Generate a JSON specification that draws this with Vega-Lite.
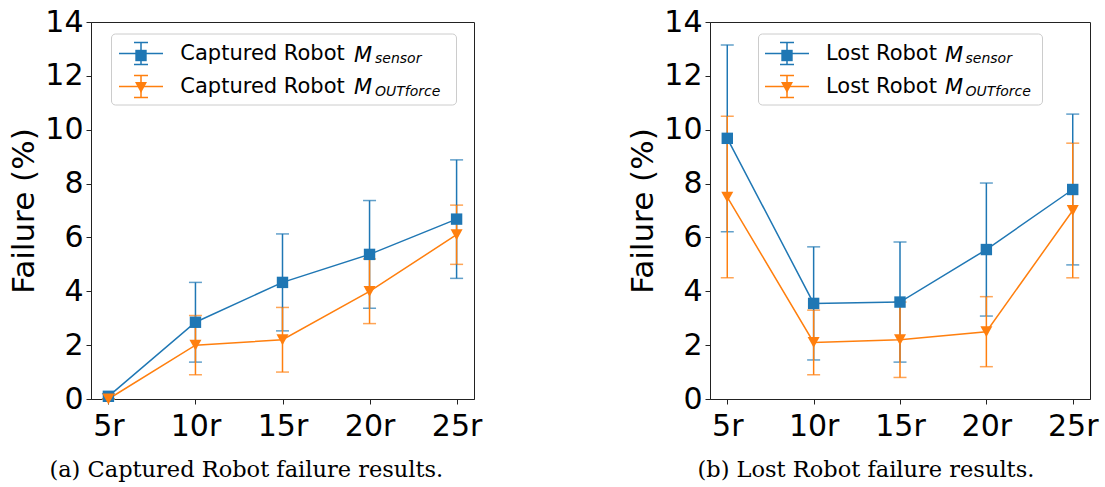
{
  "$schema": "https://vega.github.io/schema/vega-lite/v6.json",
  "background": "white",
  "padding": {"left": 8, "top": 6, "right": 10, "bottom": 8},
  "spacing": 144,
  "config": {
    "font": "DejaVu Sans",
    "view": {"stroke": "#222", "strokeWidth": 1},
    "axis": {
      "labelFont": "DejaVu Sans", "labelFontSize": 30, "labelColor": "black",
      "titleFont": "DejaVu Sans", "titleFontSize": 31, "titleFontWeight": "normal", "titleColor": "black",
      "domainColor": "#222", "tickColor": "#222", "tickSize": 5, "grid": false, "labelPadding": 3
    },
    "axisX": {"labelPadding": 7},
    "legend": {"title": null, "orient": "none", "labelFont": "DejaVu Sans", "labelColor": "black", "labelLimit": 500},
    "title": {"font": "DejaVu Serif", "fontSize": 22.5, "fontWeight": "normal", "color": "black", "orient": "bottom", "offset": 18, "frame": "bounds"}
  },
  "resolve": {
    "scale": {"color": "independent", "shape": "independent", "opacity": "independent"},
    "legend": {"color": "independent", "shape": "independent", "opacity": "independent"}
  },
  "hconcat": [
    {
      "width": 383, "height": 377,
      "title": {"text": "(a) Captured Robot failure results.", "dx": 1},
      "data": {"values": [
        {"r": "5r", "s": "sensor", "m": "M sensor", "sub": "sensor", "v": 0.1, "e": 0.1},
        {"r": "10r", "s": "sensor", "m": "M sensor", "sub": "sensor", "v": 2.85, "e": 1.48},
        {"r": "15r", "s": "sensor", "m": "M sensor", "sub": "sensor", "v": 4.33, "e": 1.8},
        {"r": "20r", "s": "sensor", "m": "M sensor", "sub": "sensor", "v": 5.37, "e": 2.0},
        {"r": "25r", "s": "sensor", "m": "M sensor", "sub": "sensor", "v": 6.68, "e": 2.2},
        {"r": "5r", "s": "OUTforce", "m": "M OUTforce", "sub": "OUTforce", "v": 0.0, "e": 0.0},
        {"r": "10r", "s": "OUTforce", "m": "M OUTforce", "sub": "OUTforce", "v": 2.0, "e": 1.1},
        {"r": "15r", "s": "OUTforce", "m": "M OUTforce", "sub": "OUTforce", "v": 2.2, "e": 1.2},
        {"r": "20r", "s": "OUTforce", "m": "M OUTforce", "sub": "OUTforce", "v": 4.0, "e": 1.2},
        {"r": "25r", "s": "OUTforce", "m": "M OUTforce", "sub": "OUTforce", "v": 6.1, "e": 1.1}
      ]},
      "encoding": {
        "x": {"field": "r", "type": "nominal", "scale": {"type": "point", "padding": 0.2, "domain": ["5r", "10r", "15r", "20r", "25r"]}, "axis": {"title": null, "labelAngle": 0}},
        "y": {"field": "v", "type": "quantitative", "scale": {"domain": [0, 14], "nice": false}, "axis": {"title": "Failure (%)", "values": [0, 2, 4, 6, 8, 10, 12, 14]}}
      },
      "resolve": {"scale": {"color": "independent", "shape": "independent"}},
      "layer": [
        {
          "mark": {"type": "errorbar", "ticks": {"size": 13}, "thickness": 1.5},
          "encoding": {
            "yError": {"field": "e"},
            "color": {"field": "s", "type": "nominal", "scale": {"domain": ["sensor", "OUTforce"], "range": ["#1f77b4", "#ff7f0e"]}, "legend": null}
          }
        },
        {
          "mark": {"type": "line", "strokeWidth": 1.5},
          "encoding": {
            "color": {"field": "s", "type": "nominal", "scale": {"domain": ["sensor", "OUTforce"], "range": ["#1f77b4", "#ff7f0e"]},
              "legend": {
                "legendX": 20, "legendY": 11.5,
                "labelFontSize": 21,
                "labelExpr": "'Captured Robot\u00a0\u00a0\u00a0\u00a0\u00a0\u00a0\u00a0\u00a0\u00a0\u00a0\u00a0\u00a0\u00a0\u00a0\u00a0\u00a0\u200b'",
                "symbolType": "M-1.4667,0H1.4667M0,-0.7333V0.7333M-0.4667,-0.7333H0.4667M-0.4667,0.7333H0.4667",
                "symbolSize": 900, "symbolStrokeWidth": 1.5, "symbolOffset": 10, "labelOffset": 23.3, "rowPadding": 3, "padding": 4,
                "strokeColor": "#cccccc", "fillColor": "transparent", "cornerRadius": 4
              }
            },
            "opacity": {"field": "sub", "type": "ordinal", "sort": "descending", "scale": {"range": [1, 1]},
              "legend": {
                "legendX": 252, "legendY": 20.8,
                "labelFontSize": 14, "labelFontStyle": "italic",
                "symbolType": "M0,0", "symbolSize": 900, "symbolStrokeWidth": 1.5,
                "symbolStrokeColor": "transparent", "symbolFillColor": "transparent", "symbolOpacity": 0,
                "labelOffset": 0, "rowPadding": 10, "padding": 0
              }
            }
          }
        },
        {
          "mark": {"type": "point", "filled": true, "opacity": 1, "size": 900},
          "encoding": {
            "color": {"field": "m", "type": "nominal", "scale": {"domain": ["M sensor", "M OUTforce"], "range": ["#1f77b4", "#ff7f0e"]},
              "legend": {
                "legendX": 34, "legendY": 17.5,
                "labelFontSize": 21, "labelFontStyle": "italic", "labelExpr": "'M'",
                "symbolSize": 900, "symbolStrokeWidth": 1.5, "labelOffset": 197, "rowPadding": 6, "padding": 0
              }
            },
            "shape": {"field": "m", "type": "nominal", "scale": {"domain": ["M sensor", "M OUTforce"], "range": ["M-0.38,-0.38H0.38V0.38H-0.38Z", "M-0.4,-0.36H0.4L0,0.36Z"]},
              "legend": {
                "legendX": 34, "legendY": 17.5,
                "labelFontSize": 21, "labelFontStyle": "italic", "labelExpr": "'M'",
                "symbolSize": 900, "symbolStrokeWidth": 1.5, "labelOffset": 197, "rowPadding": 6, "padding": 0
              }
            }
          }
        }
      ]
    },
    {
      "width": 380, "height": 377,
      "title": {"text": "(b) Lost Robot failure results.", "dx": 3},
      "data": {"values": [
        {"r": "5r", "s": "sensor", "m": "M sensor", "sub": "sensor", "v": 9.68, "e": 3.47},
        {"r": "10r", "s": "sensor", "m": "M sensor", "sub": "sensor", "v": 3.55, "e": 2.1},
        {"r": "15r", "s": "sensor", "m": "M sensor", "sub": "sensor", "v": 3.6, "e": 2.23},
        {"r": "20r", "s": "sensor", "m": "M sensor", "sub": "sensor", "v": 5.55, "e": 2.47},
        {"r": "25r", "s": "sensor", "m": "M sensor", "sub": "sensor", "v": 7.78, "e": 2.8},
        {"r": "5r", "s": "OUTforce", "m": "M OUTforce", "sub": "OUTforce", "v": 7.5, "e": 3.0},
        {"r": "10r", "s": "OUTforce", "m": "M OUTforce", "sub": "OUTforce", "v": 2.1, "e": 1.2},
        {"r": "15r", "s": "OUTforce", "m": "M OUTforce", "sub": "OUTforce", "v": 2.2, "e": 1.4},
        {"r": "20r", "s": "OUTforce", "m": "M OUTforce", "sub": "OUTforce", "v": 2.5, "e": 1.3},
        {"r": "25r", "s": "OUTforce", "m": "M OUTforce", "sub": "OUTforce", "v": 7.0, "e": 2.5}
      ]},
      "encoding": {
        "x": {"field": "r", "type": "nominal", "scale": {"type": "point", "padding": 0.2, "domain": ["5r", "10r", "15r", "20r", "25r"]}, "axis": {"title": null, "labelAngle": 0}},
        "y": {"field": "v", "type": "quantitative", "scale": {"domain": [0, 14], "nice": false}, "axis": {"title": "Failure (%)", "values": [0, 2, 4, 6, 8, 10, 12, 14]}}
      },
      "resolve": {"scale": {"color": "independent", "shape": "independent"}},
      "layer": [
        {
          "mark": {"type": "errorbar", "ticks": {"size": 13}, "thickness": 1.5},
          "encoding": {
            "yError": {"field": "e"},
            "color": {"field": "s", "type": "nominal", "scale": {"domain": ["sensor", "OUTforce"], "range": ["#1f77b4", "#ff7f0e"]}, "legend": null}
          }
        },
        {
          "mark": {"type": "line", "strokeWidth": 1.5},
          "encoding": {
            "color": {"field": "s", "type": "nominal", "scale": {"domain": ["sensor", "OUTforce"], "range": ["#1f77b4", "#ff7f0e"]},
              "legend": {
                "legendX": 48, "legendY": 11.5,
                "labelFontSize": 21,
                "labelExpr": "'Lost Robot\u00a0\u00a0\u00a0\u00a0\u00a0\u00a0\u00a0\u00a0\u00a0\u00a0\u00a0\u00a0\u00a0\u00a0\u00a0\u200b'",
                "symbolType": "M-1.4667,0H1.4667M0,-0.7333V0.7333M-0.4667,-0.7333H0.4667M-0.4667,0.7333H0.4667",
                "symbolSize": 900, "symbolStrokeWidth": 1.5, "symbolOffset": 9, "labelOffset": 23, "rowPadding": 3, "padding": 4,
                "strokeColor": "#cccccc", "fillColor": "transparent", "cornerRadius": 4
              }
            },
            "opacity": {"field": "sub", "type": "ordinal", "sort": "descending", "scale": {"range": [1, 1]},
              "legend": {
                "legendX": 223.5, "legendY": 20.8,
                "labelFontSize": 14, "labelFontStyle": "italic",
                "symbolType": "M0,0", "symbolSize": 900, "symbolStrokeWidth": 1.5,
                "symbolStrokeColor": "transparent", "symbolFillColor": "transparent", "symbolOpacity": 0,
                "labelOffset": 0, "rowPadding": 10, "padding": 0
              }
            }
          }
        },
        {
          "mark": {"type": "point", "filled": true, "opacity": 1, "size": 900},
          "encoding": {
            "color": {"field": "m", "type": "nominal", "scale": {"domain": ["M sensor", "M OUTforce"], "range": ["#1f77b4", "#ff7f0e"]},
              "legend": {
                "legendX": 61, "legendY": 17.5,
                "labelFontSize": 21, "labelFontStyle": "italic", "labelExpr": "'M'",
                "symbolSize": 900, "symbolStrokeWidth": 1.5, "labelOffset": 142, "rowPadding": 6, "padding": 0
              }
            },
            "shape": {"field": "m", "type": "nominal", "scale": {"domain": ["M sensor", "M OUTforce"], "range": ["M-0.38,-0.38H0.38V0.38H-0.38Z", "M-0.4,-0.36H0.4L0,0.36Z"]},
              "legend": {
                "legendX": 61, "legendY": 17.5,
                "labelFontSize": 21, "labelFontStyle": "italic", "labelExpr": "'M'",
                "symbolSize": 900, "symbolStrokeWidth": 1.5, "labelOffset": 142, "rowPadding": 6, "padding": 0
              }
            }
          }
        }
      ]
    }
  ]
}
